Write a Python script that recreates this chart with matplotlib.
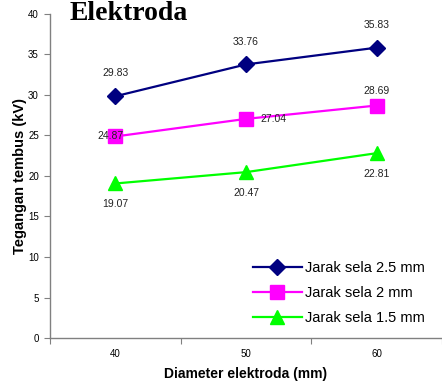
import numpy as np
from matplotlib import pyplot as plt

diameters = ['40', '50', '60']
jarak_25 = [29.83, 33.76, 35.83]
jarak_20 = [24.87, 27.04, 28.69]
jarak_15 = [19.07, 20.47, 22.81]
series_names = ['Jarak sela 2.5 mm', 'Jarak sela 2 mm', 'Jarak sela 1.5 mm']

plt.rcParams['font.family'] = ['Liberation Sans', 'DejaVu Sans']

fig = plt.figure(figsize=(4.42, 3.85), dpi=100)
ax = fig.add_axes([0.113, 0.122, 0.887, 0.842])

x = np.arange(len(diameters))
ax.plot(x, jarak_25, color='#000080', lw=1.6, marker='D', ms=8, label=series_names[0])
ax.plot(x, jarak_20, color='#ff00ff', lw=1.6, marker='s', ms=9.5, label=series_names[1])
ax.plot(x, jarak_15, color='#00ff00', lw=1.6, marker='^', ms=10.5, label=series_names[2])

# data labels (offsets in pixels)
offs_25 = [(0, 23), (0, 22), (0, 23)]
offs_20 = [(-5, 0), (27, 0), (0, 15)]
offs_15 = [(0, -21), (0, -21), (0, -21)]
for vals, offs in [(jarak_25, offs_25), (jarak_20, offs_20), (jarak_15, offs_15)]:
    for xi, v, o in zip(x, vals, offs):
        ax.annotate(f'{v:.2f}', (xi, v), xytext=o, textcoords='offset pixels',
                    ha='center', va='center', fontsize=7.5, color='#222222')

ax.set_xlim(-0.5, 2.5)
ax.set_ylim(0, 40)
ax.set_yticks(np.arange(0, 41, 5))
ax.set_xticks([-0.5, 0.5, 1.5, 2.5])
ax.set_xticklabels([])
ax.set_xticks(x, minor=True)
ax.set_xticklabels(diameters, minor=True)
ax.tick_params(axis='x', which='major', length=4, color='#808080', direction='out')
ax.tick_params(axis='x', which='minor', length=0, pad=8, labelsize=7)
ax.tick_params(axis='y', length=4, color='#808080', labelsize=7, pad=4)

for s in ['top', 'right']:
    ax.spines[s].set_visible(False)
for s in ['left', 'bottom']:
    ax.spines[s].set_color('#808080')
    ax.spines[s].set_linewidth(1.0)

ax.set_xlabel('Diameter elektroda (mm)', fontsize=10, fontweight='bold', labelpad=6)
ax.set_ylabel('Tegangan tembus (kV)', fontsize=10.5, fontweight='bold', labelpad=1)

leg = ax.legend(loc='lower right', frameon=False, fontsize=10.5, handlelength=3.4,
                handletextpad=0.2, labelspacing=0.75, bbox_to_anchor=(0.99, 0.0))

fig.text(0.158, 0.948, 'Elektroda', fontsize=20, fontweight='bold',
         family='Liberation Serif', va='baseline')

plt.savefig('out.png', dpi=100)
